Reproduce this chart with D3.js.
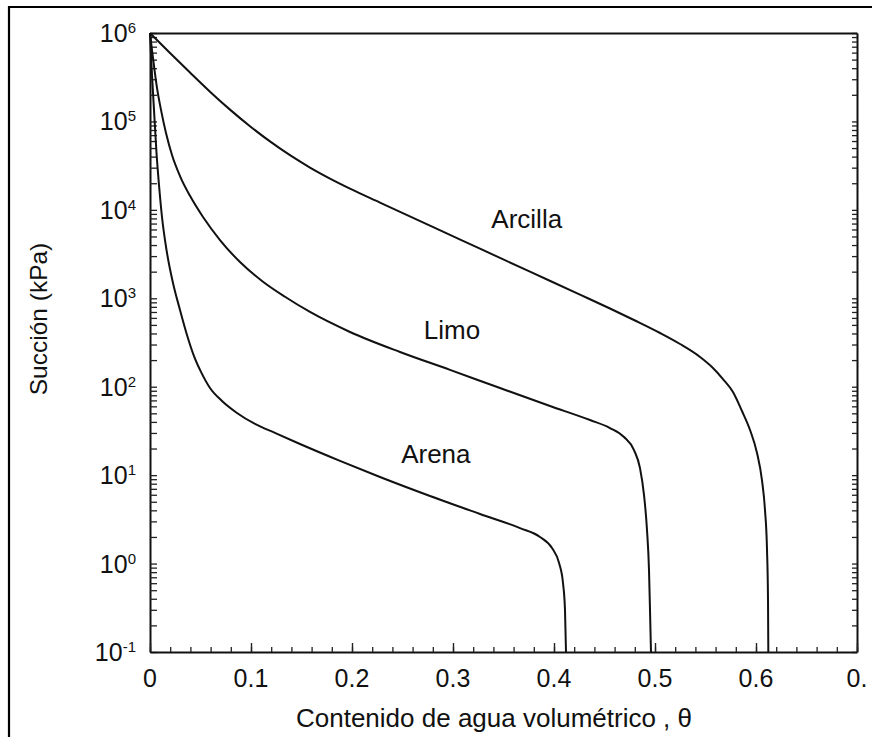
<!DOCTYPE html>
<html>
<head>
<meta charset="utf-8">
<script src="https://cdn.jsdelivr.net/npm/d3@7"></script>
<style>
  html, body { margin: 0; padding: 0; background: #fff; }
  svg { display: block; }
  text { font-family: "Liberation Sans", Arial, Helvetica, sans-serif; fill: #111; }
</style>
</head>
<body>
<svg id="chart" width="872" height="737"></svg>
<script>
// ---- data (θ, suction kPa) ----
const arcillaTheta = [0, 0.0198, 0.0396, 0.0594, 0.0792, 0.099, 0.1188, 0.1386, 0.1584, 0.1782, 0.198, 0.2277, 0.2772, 0.3267, 0.3762, 0.4257, 0.4554, 0.4802, 0.505, 0.5248, 0.5446, 0.5564, 0.5673, 0.5772, 0.5861, 0.5941, 0.601, 0.6059, 0.6089, 0.6109, 0.6119, 0.6122];
const arcillaSuction = [1e6, 5.94e5, 3.57e5, 2.17e5, 1.36e5, 8.83e4, 5.94e4, 4.15e4, 3.01e4, 2.26e4, 1.74e4, 1.21e4, 6.62e3, 3.64e3, 2.0e3, 1.1e3, 767, 561, 405, 304, 217, 167, 122, 87.1, 53.1, 32.4, 17.8, 8.81, 4.04, 1.43, 0.387, 0.1];

const limoTheta = [0, 0.00198, 0.00396, 0.00693, 0.01089, 0.01584, 0.02178, 0.0297, 0.0396, 0.05248, 0.06931, 0.08911, 0.11089, 0.13366, 0.15842, 0.19802, 0.24752, 0.29703, 0.34653, 0.39604, 0.43564, 0.45545, 0.46931, 0.47921, 0.48515, 0.48911, 0.49208, 0.49406, 0.49505, 0.49604];
const limoSuction = [1e6, 6.42e5, 4.24e5, 2.39e5, 1.35e5, 7.39e4, 4.17e4, 2.41e4, 1.44e4, 8.3e3, 4.56e3, 2.57e3, 1.57e3, 1.04e3, 700, 416, 247, 155, 96.6, 60.5, 42.0, 34.1, 27.0, 19.2, 12.0, 5.97, 2.4, 0.845, 0.299, 0.1];

const arenaTheta = [0, 0.00198, 0.00396, 0.00644, 0.00891, 0.01188, 0.01634, 0.02277, 0.0297, 0.03663, 0.04356, 0.0505, 0.05941, 0.07129, 0.08614, 0.10396, 0.12376, 0.14851, 0.18812, 0.22772, 0.27723, 0.32673, 0.36634, 0.38614, 0.39802, 0.40495, 0.40891, 0.41089, 0.41188];
const arenaSuction = [1e6, 3.35e5, 1.35e5, 4.4e4, 1.91e4, 8.3e3, 3.52e3, 1.49e3, 738, 385, 222, 147, 96.6, 69.0, 50.5, 37.9, 30.0, 22.5, 14.5, 9.53, 5.81, 3.64, 2.52, 2.0, 1.5, 1.02, 0.603, 0.299, 0.1];

const seriesNames = ["Arcilla", "Limo", "Arena"];
const labelTheta = [0.373, 0.299, 0.283];
const labelSuction = [6.2e3, 347, 13.7];

const xTickValues = [0, 0.1, 0.2, 0.3, 0.4, 0.5, 0.6, 0.7];
const xTickLabels = ["0", "0.1", "0.2", "0.3", "0.4", "0.5", "0.6", "0."];
const yDecades = [1e-1, 1e0, 1e1, 1e2, 1e3, 1e4, 1e5, 1e6];
const yExponents = ["-1", "0", "1", "2", "3", "4", "5", "6"];

const xTitle = "Contenido de agua volumétrico , θ";
const yTitle = "Succión (kPa)";

// ---- layout ----
const svg = d3.select("#chart");
const L = 150, R = 857, T = 33, B = 652;
const x = d3.scaleLinear().domain([0, 0.7]).range([L, R]);
const y = d3.scaleLog().domain([0.1, 1e6]).range([B, T]);

// outer frame (left and top edges visible)
svg.append("path")
  .attr("d", "M9,737 L9,7 L872,7")
  .attr("fill", "none").attr("stroke", "#000").attr("stroke-width", 2.2);

// log ticks 1..9 per decade
const logTicks = [];
for (let e = -1; e < 6; e++) for (let m = 1; m <= 9; m++) logTicks.push(m * Math.pow(10, e));
logTicks.push(1e6);

const g = svg.append("g");

// left axis (ticks inward)
g.append("g").attr("transform", `translate(${L},0)`)
  .call(d3.axisLeft(y).tickValues(logTicks).tickSizeInner(-7).tickSizeOuter(0).tickFormat(""))
  .call(s => s.selectAll(".tick line").attr("stroke", "#222").attr("stroke-width", 1.3))
  .call(s => s.select(".domain").attr("stroke", "#111").attr("stroke-width", 2));

// right axis (ticks inward)
g.append("g").attr("transform", `translate(${R},0)`)
  .call(d3.axisRight(y).tickValues(logTicks).tickSizeInner(-5).tickSizeOuter(0).tickFormat(""))
  .call(s => s.selectAll(".tick line").attr("stroke", "#222").attr("stroke-width", 1.3))
  .call(s => s.select(".domain").attr("stroke", "#111").attr("stroke-width", 2));

// bottom axis minor + major ticks (inward)
const xMinor = d3.range(0, 36).map(i => i * 0.02).filter(v => v <= 0.7001);
g.append("g").attr("transform", `translate(0,${B})`)
  .call(d3.axisBottom(x).tickValues(xMinor).tickSizeInner(-5).tickSizeOuter(0).tickFormat(""))
  .call(s => s.selectAll(".tick line").attr("stroke", "#222").attr("stroke-width", 1.3))
  .call(s => s.select(".domain").attr("stroke", "#111").attr("stroke-width", 2));
g.append("g").attr("transform", `translate(0,${B})`)
  .call(d3.axisBottom(x).tickValues(xTickValues).tickSizeInner(-9).tickSizeOuter(0).tickFormat(""))
  .call(s => s.selectAll(".tick line").attr("stroke", "#222").attr("stroke-width", 1.4))
  .call(s => s.select(".domain").remove());

// top axis line
g.append("g").attr("transform", `translate(0,${T})`)
  .call(d3.axisTop(x).tickValues([]).tickSizeOuter(0))
  .call(s => s.select(".domain").attr("stroke", "#111").attr("stroke-width", 2));

// x tick labels
svg.append("g").selectAll("text").data(xTickValues).join("text")
  .attr("x", d => x(d)).attr("y", 687)
  .attr("text-anchor", "middle").attr("font-size", 25)
  .text((d, i) => xTickLabels[i]);

// y tick labels with superscripts
const yl = svg.append("g").selectAll("text").data(yDecades).join("text")
  .attr("x", 136).attr("y", d => y(d) + 9)
  .attr("text-anchor", "end").attr("font-size", 25);
yl.append("tspan").text("10");
yl.append("tspan").attr("font-size", 15).attr("dy", -9).text((d, i) => yExponents[i]);

// axis titles
svg.append("text").attr("x", 494).attr("y", 727).attr("text-anchor", "middle")
  .attr("font-size", 26).text(xTitle);
svg.append("text").attr("transform", "translate(47,319) rotate(-90)")
  .attr("text-anchor", "middle").attr("font-size", 24.5).text(yTitle);

// curves
const line = d3.line().x(d => x(d[0])).y(d => y(d[1])).curve(d3.curveMonotoneX);
const series = [
  d3.zip(arcillaTheta, arcillaSuction),
  d3.zip(limoTheta, limoSuction),
  d3.zip(arenaTheta, arenaSuction)
];
svg.append("g").selectAll("path").data(series).join("path")
  .attr("d", line).attr("fill", "none").attr("stroke", "#111").attr("stroke-width", 2);

// curve labels
svg.append("g").selectAll("text").data(seriesNames).join("text")
  .attr("x", (d, i) => x(labelTheta[i])).attr("y", (d, i) => y(labelSuction[i]))
  .attr("text-anchor", "middle").attr("font-size", 26)
  .text(d => d);
</script>
</body>
</html>
